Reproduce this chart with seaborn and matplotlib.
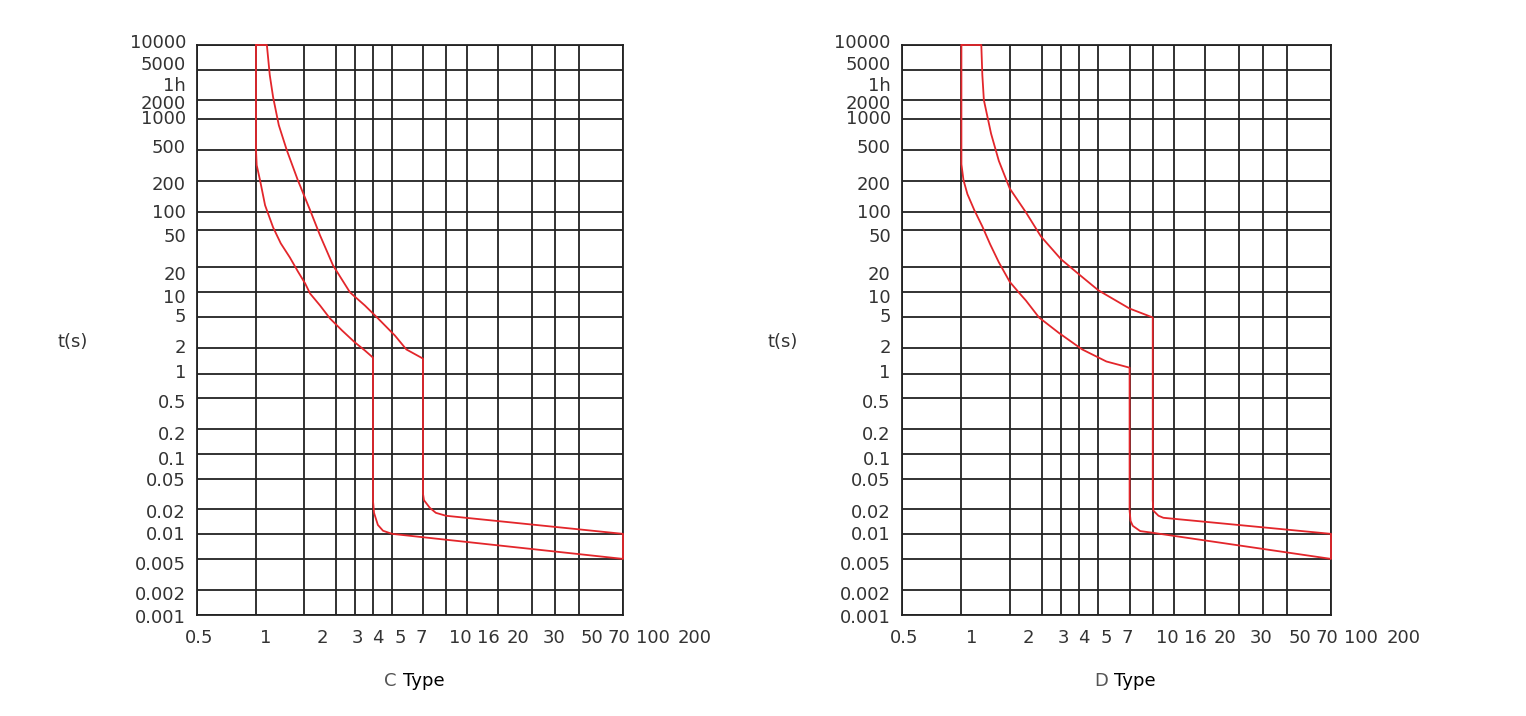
import numpy as np
import pandas as pd
import matplotlib
matplotlib.use("Agg")
import matplotlib.pyplot as plt
import seaborn as sns

# grid values of the two time-current charts
x_ticks = [0.5, 1, 2, 3, 4, 5, 7, 10, 16, 20, 30, 50, 70, 100, 200]
y_ticks = [0.001, 0.002, 0.005, 0.01, 0.02, 0.05, 0.1, 0.2, 0.5, 1, 2, 5,
           10, 20, 50, 100, 200, 500, 1000, 2000, 5000, 10000]
y_labels = ["0.001", "0.002", "0.005", "0.01", "0.02", "0.05", "0.1", "0.2",
            "0.5", "1", "2", "5", "10", "20", "50", "100", "200", "500",
            "1000", "2000", "1h", "5000", "10000"]

# C type tripping band (multiples of In, seconds)
c_low_i = [1.0, 1.0, 1.01, 1.06, 1.14, 1.28, 1.43, 1.63, 1.83, 2.03, 2.16,
           2.45, 2.78, 3.29, 4.0, 4.52, 5.0,
           5.0, 5.09, 5.45, 5.97, 7.0, 200]
c_low_t = [10000, 500, 321, 206, 117, 56, 36.2, 25.6, 17.9, 12.8, 9.7,
           6.97, 4.85, 3.36, 2.33, 1.85, 1.53,
           0.0255, 0.0179, 0.0128, 0.0109, 0.01, 0.005]
c_up_i = [1.17, 1.22, 1.28, 1.39, 1.56, 1.83, 2.16, 2.45, 2.89, 3.71, 4.52,
          5.47, 7.24, 8.26, 10.0,
          10.0, 10.2, 11.5, 13.0, 16.0, 200]
c_up_t = [10000, 4286, 2188, 874, 500, 206, 105, 44.2, 21, 10, 6.97,
          4.85, 2.88, 1.9, 1.49,
          0.0316, 0.026, 0.0206, 0.0179, 0.0165, 0.01]

# D type tripping band
d_low_i = [1.0, 1.0, 1.03, 1.09, 1.2, 1.35, 1.51, 1.71, 2.0, 2.24, 2.45, 2.89,
           3.87, 5.27, 7.67, 10.0,
           10.0, 10.2, 10.66, 12.4, 16.0, 200]
d_low_t = [10000, 330, 207, 150, 106, 58, 35.4, 22.7, 13.4, 10, 8.0, 5.0,
           3.12, 1.9, 1.38, 1.17,
           0.019, 0.0143, 0.0125, 0.0108, 0.0103, 0.005]
d_up_i = [1.33, 1.35, 1.38, 1.53, 1.71, 2.0, 2.45, 2.96, 4.0, 5.0, 7.0, 10.0,
          16.0, 16.0, 16.1, 17.0, 17.9, 200]
d_up_t = [10000, 4286, 2000, 723, 365, 170, 100, 43, 24.4, 16.4, 10.6, 6.4,
          5.0, 0.026, 0.019, 0.0165, 0.0156, 0.01]

# layout of the printed sheet (pixel positions of grid lines and labels)
x_grid_px = [197, 256, 304, 336, 355, 373, 392, 423, 446, 467, 498, 532, 555, 579, 623]
y_grid_px = [614, 589, 558, 533, 508, 478, 453, 428, 397, 373, 347, 317, 292,
             267, 230, 212, 181, 150, 119, 100, 70, 45]
x_label_px = [199, 266, 322, 357, 378, 400, 421, 460, 488, 518, 554, 592, 619, 653, 695]
y_label_px = [618, 595, 565, 535, 513, 481, 460, 435, 403, 373, 348, 317, 298,
              275, 237, 213, 185, 148, 119, 104, 86, 65, 43]

RED = "#e3262b"
INK = "#333333"
FS = 13


def sheet_scale(vals, pos):
    lv = np.log10(np.asarray(vals, float))
    p = np.asarray(pos, float)
    s0 = (p[1] - p[0]) / (lv[1] - lv[0])
    s1 = (p[-1] - p[-2]) / (lv[-1] - lv[-2])

    def fwd(v):
        v = np.log10(np.clip(np.asarray(v, float), 1e-12, None))
        out = np.interp(v, lv, p)
        out = np.where(v < lv[0], p[0] + (v - lv[0]) * s0, out)
        return np.where(v > lv[-1], p[-1] + (v - lv[-1]) * s1, out)

    def inv(q):
        q = np.asarray(q, float)
        out = np.interp(q, p, lv)
        out = np.where(q < p[0], lv[0] + (q - p[0]) / s0, out)
        out = np.where(q > p[-1], lv[-1] + (q - p[-1]) / s1, out)
        return 10 ** out

    return fwd, inv


sns.set_style("white")
plt.rcParams["font.family"] = ["DejaVu Sans"]

fig = plt.figure(figsize=(15.26, 7.16), dpi=100)
W, H = 1526, 716
ax_left = fig.add_axes([197 / W, 1 - 615 / H, 426 / W, 570 / H])
ax_right = fig.add_axes([902 / W, 1 - 615 / H, 429 / W, 570 / H])

panels = [
    (ax_left, c_low_i, c_low_t, c_up_i, c_up_t, "C", 73, 390),
    (ax_right, d_low_i, d_low_t, d_up_i, d_up_t, "D", 783, 1101),
]

xfwd, xinv = sheet_scale(x_ticks, x_grid_px)
yfwd, yinv = sheet_scale(y_ticks, [-p for p in y_grid_px])

for ax, li, lt, ui, ut, name, tx, nx in panels:
    # closed band: lower curve, right edge, upper curve back to the top
    band = pd.DataFrame({"I": li + ui[::-1] + li[:1], "t": lt + ut[::-1] + lt[:1]})
    sns.lineplot(data=band, x="I", y="t", sort=False, estimator=None,
                 color=RED, lw=1.3, ax=ax, clip_on=False, zorder=5)

    ax.set_xscale("function", functions=(xfwd, xinv))
    ax.set_yscale("function", functions=(yfwd, yinv))
    ax.set_xlim(x_ticks[0], x_ticks[-1])
    ax.set_ylim(y_ticks[0], y_ticks[-1])

    ax.set_xticks(x_ticks, [""] * len(x_ticks))
    ax.set_yticks(y_ticks, [""] * len(y_ticks))
    ax.set_xticks([], minor=True)
    ax.set_yticks([], minor=True)
    ax.tick_params(axis="both", which="both", length=0)
    ax.grid(True, which="major", color="#222222", lw=1.3)
    ax.set_xlabel("")
    ax.set_ylabel("")
    for sp in ax.spines.values():
        sp.set_color("#222222")
        sp.set_linewidth(1.3)

    for lab, px in zip(x_ticks, x_label_px):
        ax.text((px - 197) / 426, -0.040, f"{lab:g}", transform=ax.transAxes,
                ha="center", va="center", fontsize=FS, color=INK)
    for lab, py in zip(y_labels, y_label_px):
        ax.text(-0.026, (615 - py) / 570, lab, transform=ax.transAxes,
                ha="right", va="center", fontsize=FS, color=INK)

    fig.text(tx / W, 1 - 342 / H, "t(s)", ha="center", va="center",
             fontsize=FS, color=INK)
    fig.text(nx / W, 1 - 681 / H, name, ha="center", va="center",
             fontsize=FS, color="#555555")
    fig.text((nx + 13) / W, 1 - 681 / H, "Type", ha="left", va="center",
             fontsize=FS, color="black")

fig.savefig("out.png", dpi=100, facecolor="white")
